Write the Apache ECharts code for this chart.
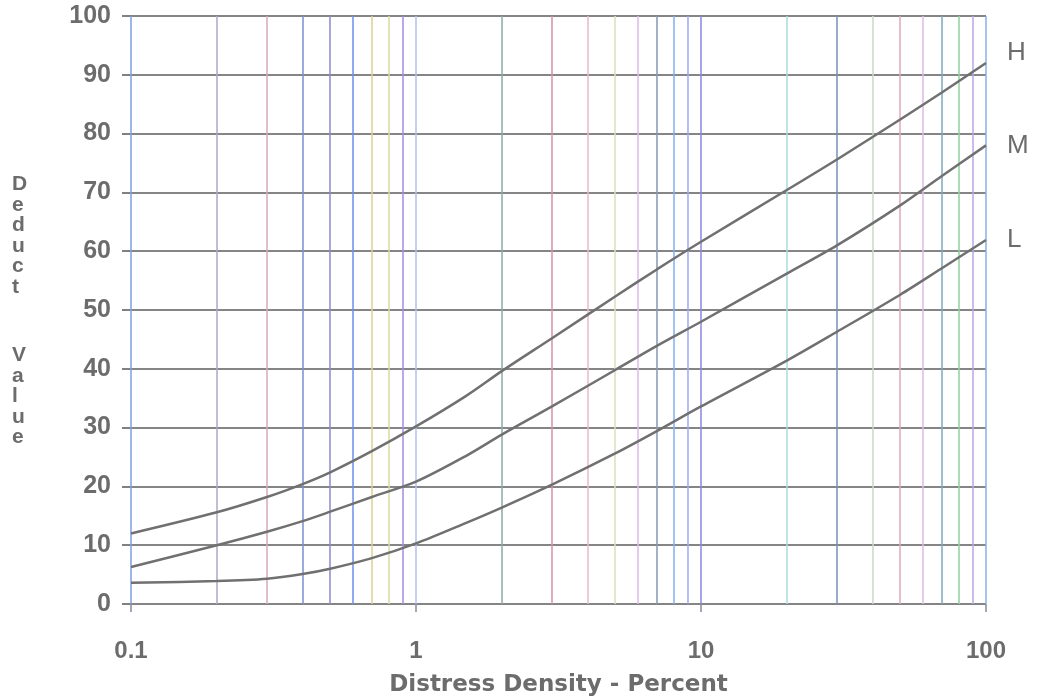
<!DOCTYPE html>
<html>
<head>
<meta charset="utf-8">
<script src="https://cdn.jsdelivr.net/npm/echarts@6/dist/echarts.min.js"></script>
<style>html,body{margin:0;padding:0;background:#fff;}#chart{width:1038px;height:700px;}</style>
</head>
<body>
<div id="chart"></div>
<script>
// ---- data ----
const density = [0.1, 0.2, 0.3, 0.4, 0.5, 0.7, 1, 1.5, 2, 3, 5, 7, 10, 20, 30, 50, 70, 100];
const highValues   = [12, 15.6, 18.2, 20.4, 22.4, 26, 30.2, 35.4, 39.6, 45.2, 52.3, 56.9, 61.6, 70.4, 75.6, 82.4, 87, 92];
const mediumValues = [6.3, 10, 12.3, 14.1, 15.7, 18.2, 20.8, 25.2, 28.8, 33.6, 39.8, 43.9, 48, 56.2, 61, 67.8, 72.8, 78];
const lowValues    = [3.6, 3.9, 4.3, 5.1, 6.0, 7.8, 10.3, 13.8, 16.4, 20.3, 25.6, 29.4, 33.6, 41.4, 46.3, 52.6, 57.1, 61.9];
const severityNames = ['H', 'M', 'L'];
const gridDensities = [0.1,0.2,0.3,0.4,0.5,0.6,0.7,0.8,0.9,1,2,3,4,5,6,7,8,9,10,20,30,40,50,60,70,80,90,100];
const xTickLabels = ['0.1', '1', '10', '100'];
const yTicks = [0,10,20,30,40,50,60,70,80,90,100];

// ---- styles ----
const gridColors = [
  '#7f9fe0','#b0a6c8','#d8a8b8','#7a8fd0','#8c8ad0','#6f8ee8','#e0d090','#d8d8a8','#a58ce0','#b0c0f0',
  '#90a8a8','#d890a8','#e6b8cc','#d8e0c0','#dcbce6','#8898b0','#80b0f0','#a0a8f0','#8888e0',
  '#a8dcdc','#7890b8','#c8d8c8','#e0a8c0','#dcbce6','#80a8b8','#90d0a0','#b8a8e8','#88b0e8'
];
const textColor = '#6c6c6c';
const curveColor = '#707070';
const fontFam = '"Liberation Sans", Arial, sans-serif';
const wideFont = '"DejaVu Sans", "Liberation Sans", sans-serif';

const chart = echarts.init(document.getElementById('chart'), null, {renderer: 'canvas'});

const makeSeries = (name, vals, offset) => ({
  name: name,
  type: 'line',
  data: density.map((d, i) => [d, vals[i]]),
  smooth: 0.3,
  showSymbol: false,
  silent: true,
  z: 5,
  lineStyle: {color: curveColor, width: 2.5},
  endLabel: {
    show: true,
    formatter: name,
    distance: 21,
    offset: offset,
    color: textColor,
    fontSize: 26,
    fontFamily: fontFam
  }
});

const option = {
  backgroundColor: '#ffffff',
  animation: false,
  grid: {left: 131, right: 52, top: 16, bottom: 96, containLabel: false, outerBoundsMode: 'none'},
  xAxis: {
    type: 'log',
    logBase: 10,
    min: 0.1,
    max: 100,
    axisLine: {show: false},
    axisTick: {show: true, length: 8, lineStyle: {color: '#8a8a9a', width: 1.5}},
    splitLine: {show: false},
    axisLabel: {
      margin: 35,
      color: textColor,
      fontSize: 24,
      fontWeight: 'bold',
      fontFamily: fontFam,
      formatter: function (v) {
        const s = String(+v.toPrecision(6));
        return xTickLabels.indexOf(s) >= 0 ? s : '';
      }
    },
    name: 'Distress Density - Percent',
    nameLocation: 'middle',
    nameGap: 70,
    nameTextStyle: {color: textColor, fontSize: 23, fontWeight: 'bold', fontFamily: wideFont}
  },
  yAxis: {
    type: 'value',
    min: yTicks[0],
    max: yTicks[yTicks.length - 1],
    interval: 10,
    axisLine: {show: false},
    axisTick: {show: true, length: 9, lineStyle: {color: '#808080', width: 2}},
    splitLine: {show: true, lineStyle: {color: '#858585', width: 2.2}},
    axisLabel: {
      margin: 20,
      color: textColor,
      fontSize: 25,
      fontWeight: 'bold',
      fontFamily: fontFam
    }
  },
  graphic: [
    {type: 'text', left: 12, top: 174, style: {text: 'D\ne\nd\nu\nc\nt', fill: textColor, font: 'bold 21px ' + fontFam, lineHeight: 20.5, align: 'center'}},
    {type: 'text', left: 12, top: 345, style: {text: 'V\na\nl\nu\ne', fill: textColor, font: 'bold 21px ' + fontFam, lineHeight: 20.5, align: 'center'}}
  ],
  series: [
    makeSeries(severityNames[0], highValues, [0, -10]),
    makeSeries(severityNames[1], mediumValues, [0, 0]),
    makeSeries(severityNames[2], lowValues, [0, 0]),
    {
      type: 'line',
      data: [],
      silent: true,
      markLine: {
        silent: true,
        symbol: ['none', 'none'],
        animation: false,
        label: {show: false},
        emphasis: {disabled: true},
        data: gridDensities.map((v, i) => ({
          xAxis: v,
          lineStyle: {color: gridColors[i], width: 1.6, type: 'solid', opacity: 0.95}
        }))
      },
      z: 1
    }
  ]
};
chart.setOption(option);
</script>
</body>
</html>
